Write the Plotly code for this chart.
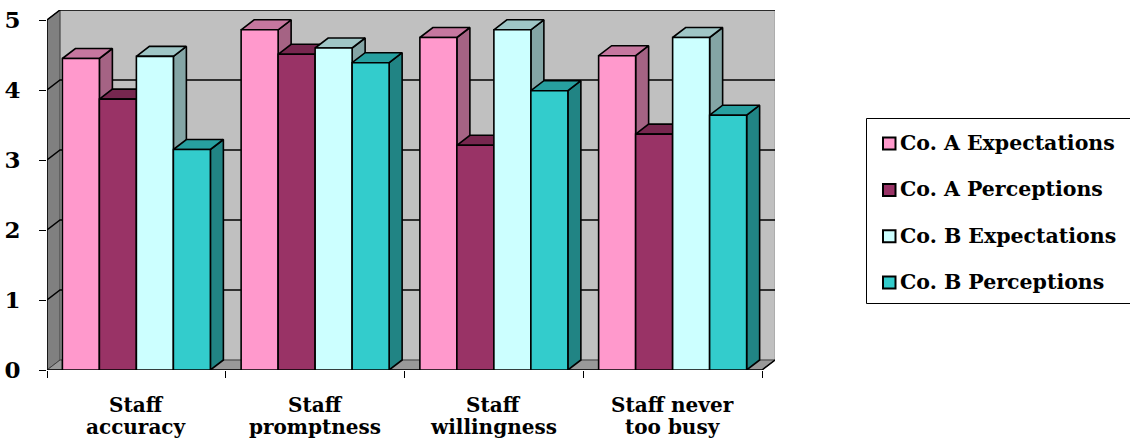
import plotly.graph_objects as go

# ---- data -------------------------------------------------------------
categories = ["Staff<br>accuracy", "Staff<br>promptness",
              "Staff<br>willingness", "Staff never<br>too busy"]
series_names = ["Co. A Expectations", "Co. A Perceptions",
                "Co. B Expectations", "Co. B Perceptions"]
co_a_expectations = [4.45, 4.86, 4.75, 4.49]
co_a_perceptions = [3.87, 4.51, 3.21, 3.37]
co_b_expectations = [4.48, 4.60, 4.86, 4.75]
co_b_perceptions = [3.15, 4.39, 3.99, 3.64]
y_ticks = [0, 1, 2, 3, 4, 5]

series_values = [co_a_expectations, co_a_perceptions,
                 co_b_expectations, co_b_perceptions]
series_colors = ["#FF99CC", "#993366", "#CCFFFF", "#33CCCC"]

# ---- geometry of the pseudo-3D box (in axis units) ---------------------
W, H = 1130, 448
M_L, M_R, M_T, M_B = 47, 355, 10, 78
PLOT_W = W - M_L - M_R
PLOT_H = H - M_T - M_B
PX_PER_CAT = 178.75           # front plane: one category per 178.75 px
PX_PER_UNIT = 70.0            # one value unit per 70 px
X_MIN = -0.5
X_MAX = X_MIN + PLOT_W / PX_PER_CAT
Y_MAX = PLOT_H / PX_PER_UNIT
DX = 13 / PX_PER_CAT          # depth shift to the right
DY = 10 / PX_PER_UNIT         # depth shift upwards
N = len(categories)
X_END = N - 0.5
BAR_W = 37 / PX_PER_CAT
FONT = "DejaVu Serif"


def shade(hex_color, k):
    r, g, b = (int(hex_color[i:i + 2], 16) for i in (1, 3, 5))
    return "#%02X%02X%02X" % (int(r * k), int(g * k), int(b * k))


def path(points):
    return "M " + " L ".join(f"{x},{y}" for x, y in points) + " Z"


def open_path(points):
    return "M " + " L ".join(f"{x},{y}" for x, y in points)


fig = go.Figure()

# ---- walls, floor and gridlines ----------------------------------------
shapes = []
# back wall
shapes.append(dict(type="path", xref="x", yref="y", layer="below",
                   path=path([(X_MIN + DX, DY), (X_END + DX, DY),
                              (X_END + DX, 5 + DY), (X_MIN + DX, 5 + DY)]),
                   fillcolor="#C0C0C0", line=dict(color="#9A9A9A", width=1)))
# left side wall
shapes.append(dict(type="path", xref="x", yref="y", layer="below",
                   path=path([(X_MIN, 0), (X_MIN + DX, DY),
                              (X_MIN + DX, 5 + DY), (X_MIN, 5)]),
                   fillcolor="#808080", line=dict(color="#404040", width=1)))
# floor
shapes.append(dict(type="path", xref="x", yref="y", layer="below",
                   path=path([(X_MIN, 0), (X_END, 0),
                              (X_END + DX, DY), (X_MIN + DX, DY)]),
                   fillcolor="#999999", line=dict(color="#404040", width=1)))
# gridlines running across the side wall and back wall
for v in y_ticks[1:-1]:
    shapes.append(dict(type="path", xref="x", yref="y", layer="below",
                       path=open_path([(X_MIN, v), (X_MIN + DX, v + DY),
                                       (X_END + DX, v + DY)]),
                       line=dict(color="black", width=1.5)))
# outer frame: front-left edge, top edges, front bottom edge
shapes.append(dict(type="path", xref="x", yref="y", layer="below",
                   path=open_path([(X_MIN, 0), (X_MIN, 5), (X_MIN + DX, 5 + DY),
                                   (X_END + DX, 5 + DY)]),
                   line=dict(color="black", width=1.5)))
shapes.append(dict(type="path", xref="x", yref="y", layer="below",
                   path=open_path([(X_MIN, 0), (X_END, 0), (X_END + DX, DY)]),
                   line=dict(color="black", width=1.5)))

# ---- bars: side, top and front faces, painted left to right ------------
n_series = len(series_values)
for s, (name, vals, col) in enumerate(zip(series_names, series_values, series_colors)):
    faces = {"side": ([], []), "top": ([], []), "front": ([], [])}
    for c, v in enumerate(vals):
        x0 = c - n_series * BAR_W / 2 + s * BAR_W
        x1 = x0 + BAR_W
        polys = {
            "side": [(x1, 0), (x1 + DX, DY), (x1 + DX, v + DY), (x1, v), (x1, 0)],
            "top": [(x0, v), (x1, v), (x1 + DX, v + DY), (x0 + DX, v + DY), (x0, v)],
            "front": [(x0, 0), (x1, 0), (x1, v), (x0, v), (x0, 0)],
        }
        for key, pts in polys.items():
            xs, ys = faces[key]
            xs.extend([p[0] for p in pts] + [None])
            ys.extend([p[1] for p in pts] + [None])
    face_colors = {"side": shade(col, 0.65), "top": shade(col, 0.78), "front": col}
    for key in ("side", "top", "front"):
        xs, ys = faces[key]
        fig.add_trace(go.Scatter(
            x=xs, y=ys, mode="lines", fill="toself",
            fillcolor=face_colors[key], line=dict(color="black", width=1.6),
            name=name, showlegend=False, hoverinfo="skip"))


# ---- category labels (two lines under each group) ----------------------
def py_to_paper(py):
    return (H - M_B - py) / PLOT_H


def px_to_paper(px):
    return (px - M_L) / PLOT_W


annotations = []
line_centres = [404.5, 426.5]
for c, label in enumerate(categories):
    for line, yc in zip(label.split("<br>"), line_centres):
        annotations.append(dict(
            x=c, xref="x", y=py_to_paper(yc), yref="paper",
            text=line, showarrow=False, xanchor="center", yanchor="middle",
            font=dict(family=FONT, size=20, color="black", weight="bold")))

# ---- legend -----------------------------------------------------------
LEG_LEFT, LEG_TOP, LEG_BOTTOM = 866.5, 118.5, 303.5
shapes.append(dict(type="rect", xref="paper", yref="paper",
                   x0=px_to_paper(LEG_LEFT), x1=px_to_paper(W + 10),
                   y0=py_to_paper(LEG_BOTTOM), y1=py_to_paper(LEG_TOP),
                   fillcolor="white", line=dict(color="black", width=1)))
row_centres = [143.5, 190.0, 236.3, 282.5]
for name, col, yc in zip(series_names, series_colors, row_centres):
    shapes.append(dict(type="rect", xref="paper", yref="paper",
                       x0=px_to_paper(883), x1=px_to_paper(895.5),
                       y0=py_to_paper(yc + 6), y1=py_to_paper(yc - 6),
                       fillcolor=col, line=dict(color="black", width=2)))
    annotations.append(dict(
        x=px_to_paper(898), xref="paper", y=py_to_paper(yc - 0.7), yref="paper",
        text=name, showarrow=False, xanchor="left", yanchor="middle",
        font=dict(family=FONT, size=20.5, color="black", weight="bold")))

fig.update_layout(
    width=W, height=H, autosize=False,
    margin=dict(l=M_L, r=M_R, t=M_T, b=M_B, pad=0),
    paper_bgcolor="white", plot_bgcolor="white",
    showlegend=False, hovermode=False,
    shapes=shapes, annotations=annotations,
    xaxis=dict(range=[X_MIN, X_MAX], automargin=False,
               tickvals=[X_MIN + i for i in range(N + 1)],
               ticktext=[""] * (N + 1),
               ticks="outside", ticklen=7, tickwidth=1, tickcolor="black",
               showgrid=False, zeroline=False, showline=False, fixedrange=True),
    yaxis=dict(range=[0, Y_MAX], tickvals=y_ticks, automargin=False,
               ticks="outside", ticklen=7, tickwidth=1, tickcolor="black",
               ticklabelstandoff=14,
               tickfont=dict(family=FONT, size=23, color="black", weight="bold"),
               showgrid=False, zeroline=False, showline=False, fixedrange=True),
)

fig.write_html("out.html", config={"displayModeBar": False})
